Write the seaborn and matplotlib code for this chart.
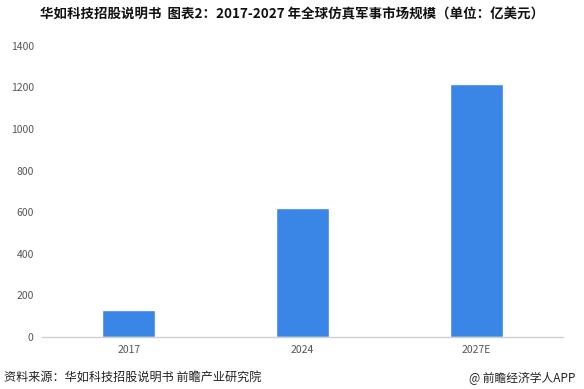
import matplotlib
matplotlib.use("Agg")
import matplotlib.pyplot as plt
import seaborn as sns
import pandas as pd

categories = ["2017", "2024", "2027E"]
values = [130, 620, 1215]
yticks = [0, 200, 400, 600, 800, 1000, 1200, 1400]

title = "华如科技招股说明书  图表2：2017-2027 年全球仿真军事市场规模（单位：亿美元）"
source = "资料来源：华如科技招股说明书 前瞻产业研究院"
brand = "@ 前瞻经济学人APP"

sns.set_theme(style="white")
plt.rcParams['font.family'] = ['Noto Sans CJK SC', 'DejaVu Sans']

df = pd.DataFrame({"year": categories, "value": values})

fig = plt.figure(figsize=(5.84, 3.89), dpi=100)
ax = fig.add_axes([0.072, 0.134, 0.892, 0.748])
sns.barplot(data=df, x="year", y="value", color="#3a86e6", saturation=1,
            width=0.305, ax=ax)

ax.set_ylim(0, 1400)
ax.set_yticks(yticks)
ax.set_yticklabels([str(v) for v in yticks])
ax.set_xlabel("")
ax.set_ylabel("")
for s in ["top", "right", "left"]:
    ax.spines[s].set_visible(False)
ax.spines["bottom"].set_color("#d0d0d0")
ax.spines["bottom"].set_linewidth(1.0)
ax.tick_params(axis="both", length=0, labelsize=7.5, colors="#555555")
ax.tick_params(axis="x", pad=6)
ax.tick_params(axis="y", pad=6)

fig.text(0.5, 0.963, title, ha="center", va="center", fontsize=9.7,
         fontweight="bold", color="#111111")
fig.text(0.007, 0.028, source, ha="left", va="center", fontsize=8.7,
         color="#222222")
fig.text(0.985, 0.028, brand, ha="right", va="center", fontsize=8.5,
         color="#222222")

fig.savefig("out.png", dpi=100)
